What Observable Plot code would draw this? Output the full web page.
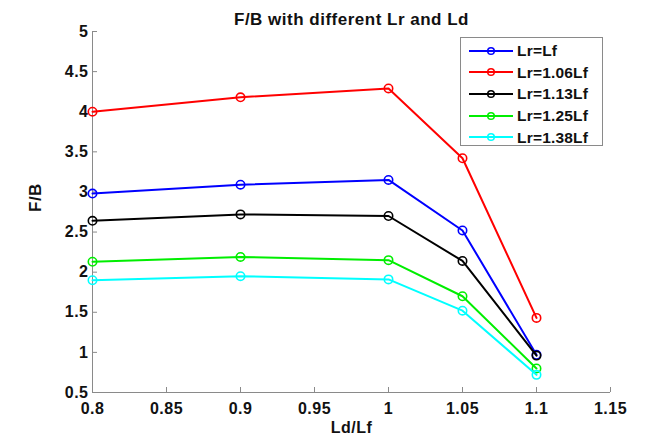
<!DOCTYPE html>
<html>
<head>
<meta charset="utf-8">
<script src="https://cdn.jsdelivr.net/npm/d3@7"></script>
<script src="https://cdn.jsdelivr.net/npm/@observablehq/plot@0.6"></script>
<style>
  html, body { margin: 0; padding: 0; background: #fff; }
  #wrap { position: relative; width: 659px; height: 443px; font-family: "Liberation Sans", Arial, sans-serif; font-weight: bold; }
  #legend { position: absolute; left: 460px; top: 37px; width: 143px; height: 109px; border: 1px solid #8a8a8a; background: #fff; box-sizing: border-box; padding-top: 2px; }
  .item { display: flex; align-items: center; height: 21.6px; font-size: 15.5px; line-height: 15px; letter-spacing: 0.2px; color: #111; white-space: nowrap; }
  .item svg { margin-left: 8px; margin-right: 4px; flex: none; }
</style>
</head>
<body>
<div id="wrap"><div id="legend"></div></div>
<script>
const ldLf = [0.8, 0.9, 1.0, 1.05, 1.1];
const seriesNames = ["Lr=Lf", "Lr=1.06Lf", "Lr=1.13Lf", "Lr=1.25Lf", "Lr=1.38Lf"];
const fbLrLf  = [2.98, 3.09, 3.15, 2.52, 0.97];
const fbLr106 = [4.00, 4.18, 4.29, 3.42, 1.43];
const fbLr113 = [2.64, 2.72, 2.70, 2.14, 0.96];
const fbLr125 = [2.13, 2.19, 2.15, 1.70, 0.80];
const fbLr138 = [1.90, 1.95, 1.91, 1.52, 0.72];
const seriesColors = ["#0000ff", "#ff0000", "#000000", "#00ee00", "#00ffff"];
const xTicks = [0.8, 0.85, 0.9, 0.95, 1, 1.05, 1.1, 1.15];
const yTicks = [0.5, 1, 1.5, 2, 2.5, 3, 3.5, 4, 4.5, 5];
const titleText = "F/B with different Lr and Ld";
const xLabel = "Ld/Lf";
const yLabel = "F/B";

const allSeries = [fbLrLf, fbLr106, fbLr113, fbLr125, fbLr138];
const rows = [];
allSeries.forEach((vals, i) => vals.forEach((v, j) => rows.push({series: seriesNames[i], x: ldLf[j], y: v})));

const W = 659, H = 443, mt = 31, mr = 49, mb = 51, ml = 92;
const gray = "#8a8a8a";
const fmt = d => String(+d.toFixed(2));

const marks = [
  Plot.ruleX([0.8], {stroke: gray, strokeWidth: 1}),
  Plot.ruleY([0.5], {stroke: gray, strokeWidth: 1}),
  Plot.tickX(xTicks, {x: d => d, stroke: gray, insetTop: (H - mt - mb) - 5}),
  Plot.tickY(yTicks, {y: d => d, stroke: gray, insetRight: (W - ml - mr) - 5}),
  Plot.axisX({ticks: xTicks, tickSize: 0, tickPadding: 10, tickFormat: fmt, label: null, fill: "#111", fontSize: 16}),
  Plot.axisY({ticks: yTicks, tickSize: 0, tickPadding: 4, tickFormat: fmt, label: null, fill: "#111", fontSize: 16})
];
seriesNames.forEach((name, i) => {
  const data = rows.filter(r => r.series === name);
  marks.push(Plot.line(data, {x: "x", y: "y", stroke: "series", strokeWidth: 2}));
  marks.push(Plot.dot(data, {x: "x", y: "y", stroke: "series", r: 4.2, strokeWidth: 1.6, fill: "none"}));
});
marks.push(Plot.text([titleText], {text: d => d, frameAnchor: "top", dy: -19, fontSize: 17, fill: "#111"}));
marks.push(Plot.text([xLabel], {text: d => d, frameAnchor: "bottom", dy: 40, fontSize: 16, fill: "#111"}));
marks.push(Plot.text([yLabel], {text: d => d, frameAnchor: "left", dx: -57, rotate: -90, fontSize: 17, fill: "#111"}));

const chart = Plot.plot({
  width: W, height: H,
  marginTop: mt, marginRight: mr, marginBottom: mb, marginLeft: ml,
  style: {fontFamily: "'Liberation Sans', Arial, sans-serif", fontWeight: "bold", fontSize: "16px", background: "#fff"},
  x: {domain: [0.8, 1.15]},
  y: {domain: [0.5, 5]},
  color: {domain: seriesNames, range: seriesColors},
  marks
});
chart.querySelectorAll("text").forEach(t => t.setAttribute("letter-spacing", "0.5"));
const wrap = document.getElementById("wrap");
wrap.insertBefore(chart, wrap.firstChild);

const legend = document.getElementById("legend");
seriesNames.forEach((name, i) => {
  const div = document.createElement("div");
  div.className = "item";
  div.innerHTML = `<svg width="44" height="10"><line x1="0" y1="5" x2="44" y2="5" stroke="${seriesColors[i]}" stroke-width="2"/><circle cx="22" cy="5" r="3.3" fill="none" stroke="${seriesColors[i]}" stroke-width="1.5"/></svg><span>${name}</span>`;
  legend.appendChild(div);
});
</script>
</body>
</html>
